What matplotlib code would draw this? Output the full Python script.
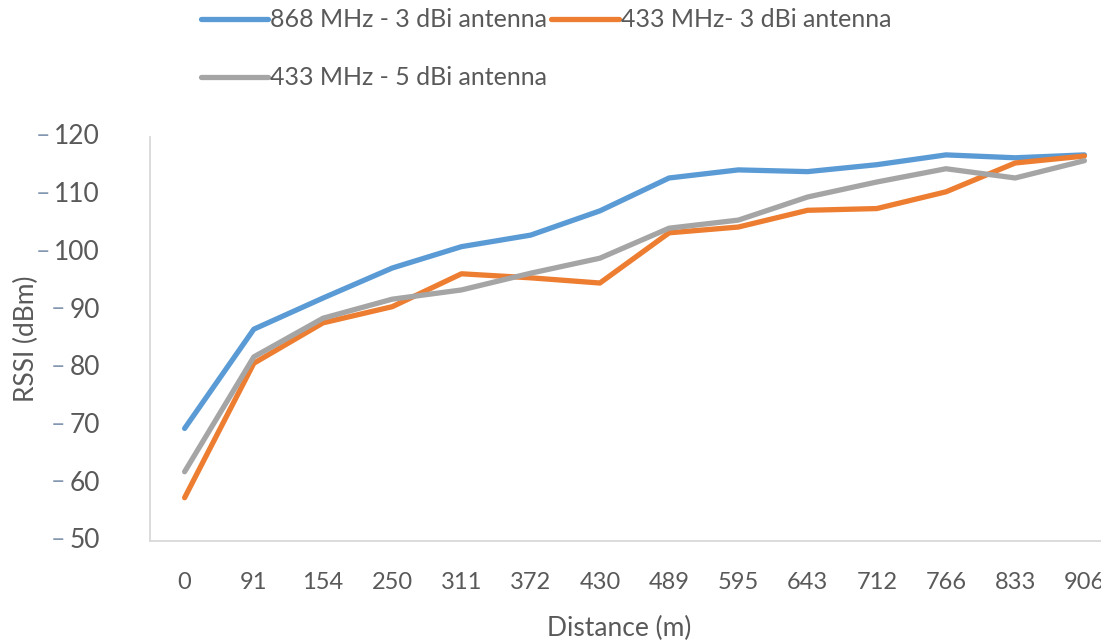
import matplotlib
matplotlib.use('Agg')
from matplotlib import pyplot as plt

distance = ['0', '91', '154', '250', '311', '372', '430', '489', '595', '643', '712', '766', '833', '906']

# RSSI magnitudes, axis labels carry the minus sign
rssi_868_3dbi = [69.5, 86.7, 92.1, 97.3, 101.0, 103.0, 107.2, 112.9, 114.3, 114.0, 115.2, 116.9, 116.4, 116.9]
rssi_433_3dbi = [57.5, 80.8, 87.8, 90.6, 96.3, 95.6, 94.7, 103.4, 104.4, 107.3, 107.6, 110.5, 115.5, 116.7]
rssi_433_5dbi = [62.0, 81.9, 88.6, 91.9, 93.5, 96.4, 99.0, 104.2, 105.6, 109.6, 112.2, 114.5, 112.9, 115.9]

y_ticks = [50, 60, 70, 80, 90, 100, 110, 120]

text_col = '#595959'
font = 'Lato'


def main():
    fig = plt.figure(figsize=(11.01, 6.42), dpi=100)
    ax = fig.add_axes([150 / 1101, 1 - 541 / 642, 969 / 1101, 404 / 642])

    x = list(range(len(distance)))
    l1, = ax.plot(x, rssi_868_3dbi, color='#5B9BD5', lw=3.8, solid_capstyle='round', clip_on=False)
    l2, = ax.plot(x, rssi_433_3dbi, color='#ED7D31', lw=3.8, solid_capstyle='round', clip_on=False)
    l3, = ax.plot(x, rssi_433_5dbi, color='#A5A5A5', lw=3.8, solid_capstyle='round', clip_on=False)

    ax.set_xlim(-0.5, len(distance) - 0.5)
    ax.set_ylim(50, 120)
    ax.set_xticks(x)
    ax.set_xticklabels(distance, fontsize=17, color=text_col, family=font)
    ax.set_yticks(y_ticks)
    ax.set_yticklabels([])
    ax.tick_params(length=0, pad=22)

    # y labels: grey number with a bluish dash in front
    for v in y_ticks:
        num = ax.annotate(str(v), xy=(-50, v), xycoords=('axes pixels', 'data'),
                          ha='right', va='center', fontsize=19, color=text_col,
                          family=font, annotation_clip=False)
        ax.annotate('–', xy=(0, 0.5), xycoords=num, xytext=(-3, 1),
                    textcoords='offset points', ha='right', va='center',
                    fontsize=18, color='#8497B0', family=font)

    for s in ['top', 'right']:
        ax.spines[s].set_visible(False)
    for s in ['left', 'bottom']:
        ax.spines[s].set_color('#D9D9D9')
        ax.spines[s].set_linewidth(1.3)

    ax.set_ylabel('RSSI (dBm)', fontsize=19, color=text_col, family=font, labelpad=58)
    fig.text(619 / 1101, 1 - 628 / 642, 'Distance (m)', ha='center', va='center',
             fontsize=19, color=text_col, family=font)

    # legend fills column by column, so order handles to get two entries on the first row
    fig.legend([l1, l3, l2],
               ['868 MHz - 3 dBi antenna', '433 MHz - 5 dBi antenna', '433 MHz- 3 dBi antenna'],
               loc='upper left', bbox_to_anchor=(178 / 1101, 1.022), ncol=2,
               frameon=False, handlelength=2.7, handletextpad=0.1, columnspacing=0.15,
               labelspacing=1.4, prop={'family': font, 'size': 18}, labelcolor=text_col)

    fig.savefig('out.png', dpi=100)


if __name__ == '__main__':
    main()
